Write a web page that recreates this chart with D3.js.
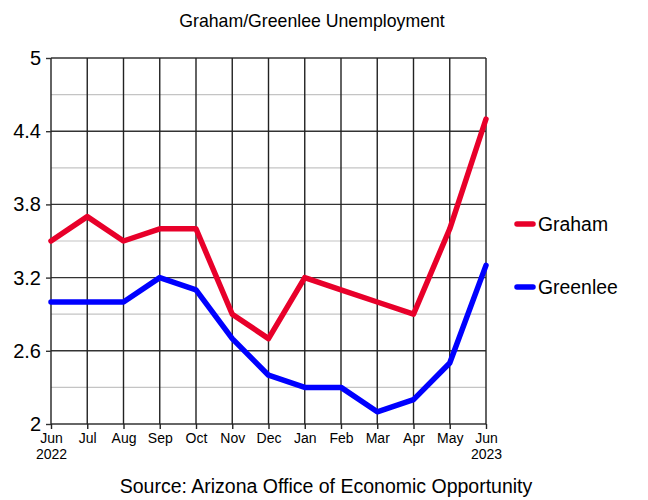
<!DOCTYPE html>
<html>
<head>
<meta charset="utf-8">
<script src="https://cdn.jsdelivr.net/npm/d3@7"></script>
<style>
body { margin: 0; background: #fff; }
text { font-family: "Liberation Sans", Arial, sans-serif; }
</style>
</head>
<body>
<div id="the_chart"></div>
<script>
var months = ["Jun", "Jul", "Aug", "Sep", "Oct", "Nov", "Dec", "Jan", "Feb", "Mar", "Apr", "May", "Jun"];
var years = ["2022", "", "", "", "", "", "", "", "", "", "", "", "2023"];
var graham = [3.5, 3.7, 3.5, 3.6, 3.6, 2.9, 2.7, 3.2, 3.1, 3.0, 2.9, 3.6, 4.5];
var greenlee = [3.0, 3.0, 3.0, 3.2, 3.1, 2.7, 2.4, 2.3, 2.3, 2.1, 2.2, 2.5, 3.3];
var yTicks = [2, 2.6, 3.2, 3.8, 4.4, 5];
var minorTicks = [2.3, 2.9, 3.5, 4.1, 4.7];

var series = [
    {name: "Graham", values: graham, color: "#e8002a"},
    {name: "Greenlee", values: greenlee, color: "#0000ff"}
];

var w = 648, h = 500;
var padLeft = 51, padRight = 486, padTop = 58, padBottom = 424;

var svg = d3.select("#the_chart").append("svg")
    .attr("width", w).attr("height", h);

var xscale = d3.scaleLinear().domain([0, months.length - 1]).range([padLeft, padRight]);
var yscale = d3.scaleLinear().domain([2, 5]).range([padBottom, padTop]);

// minor grid
svg.selectAll("line.minor").data(minorTicks).enter().append("line")
    .attr("x1", padLeft).attr("x2", padRight)
    .attr("y1", function(d) { return yscale(d); })
    .attr("y2", function(d) { return yscale(d); })
    .attr("stroke", "#c4c4c4").attr("stroke-width", 1.2);

// major horizontal grid
svg.selectAll("line.major").data(yTicks).enter().append("line")
    .attr("x1", padLeft).attr("x2", padRight)
    .attr("y1", function(d) { return yscale(d); })
    .attr("y2", function(d) { return yscale(d); })
    .attr("stroke", "#333").attr("stroke-width", 1.4);

// vertical grid
svg.selectAll("line.vert").data(d3.range(months.length)).enter().append("line")
    .attr("x1", function(d) { return xscale(d); })
    .attr("x2", function(d) { return xscale(d); })
    .attr("y1", padTop).attr("y2", padBottom)
    .attr("stroke", "#222").attr("stroke-width", 1.4);

var yaxis = d3.axisLeft(yscale).tickValues(yTicks).tickSize(5).tickPadding(5)
    .tickFormat(function(d) { return String(+d.toFixed(1)); });
var gY = svg.append("g").attr("transform", "translate(" + padLeft + ",0)").call(yaxis);
gY.select(".domain").remove();
gY.selectAll("line").attr("stroke", "#333").attr("stroke-width", 1.4);
gY.selectAll("text").attr("font-size", 20).attr("fill", "#000")
    .style("font-family", "'Liberation Sans', Arial, sans-serif");

var xaxis = d3.axisBottom(xscale).tickValues(d3.range(months.length)).tickSize(5).tickPadding(4)
    .tickFormat(function(d) { return months[d]; });
var gX = svg.append("g").attr("transform", "translate(0," + padBottom + ")").call(xaxis);
gX.select(".domain").remove();
gX.selectAll("line").attr("stroke", "#222").attr("stroke-width", 1.4);
gX.selectAll("text").attr("font-size", 14).attr("fill", "#000")
    .style("font-family", "'Liberation Sans', Arial, sans-serif");
gX.selectAll(".tick").append("text")
    .attr("y", 25).attr("dy", "0.71em").attr("text-anchor", "middle")
    .attr("font-size", 14).attr("fill", "#000")
    .style("font-family", "'Liberation Sans', Arial, sans-serif")
    .text(function(d) { return years[d]; });

var line = d3.line()
    .x(function(d, i) { return xscale(i); })
    .y(function(d) { return yscale(d); });

svg.selectAll("path.series").data(series).enter().append("path")
    .attr("d", function(d) { return line(d.values); })
    .attr("fill", "none")
    .attr("stroke", function(d) { return d.color; })
    .attr("stroke-width", 5.5)
    .attr("stroke-linejoin", "round")
    .attr("stroke-linecap", "round");

// legend
var lg = svg.selectAll("g.legend").data(series).enter().append("g")
    .attr("transform", function(d, i) { return "translate(517," + (224 + i * 63) + ")"; });
lg.append("line").attr("x1", 0).attr("x2", 16).attr("y1", 0).attr("y2", 0)
    .attr("stroke", function(d) { return d.color; })
    .attr("stroke-width", 5.5).attr("stroke-linecap", "round");
lg.append("text").attr("x", 21).attr("y", 0).attr("dy", "0.35em")
    .attr("font-size", 19.4).text(function(d) { return d.name; });

svg.append("text").attr("x", 312).attr("y", 27).attr("text-anchor", "middle")
    .attr("font-size", 17.7).text("Graham/Greenlee Unemployment");

svg.append("text").attr("x", 326).attr("y", 493).attr("text-anchor", "middle")
    .attr("font-size", 19.5).text("Source: Arizona Office of Economic Opportunity");
</script>
</body>
</html>
